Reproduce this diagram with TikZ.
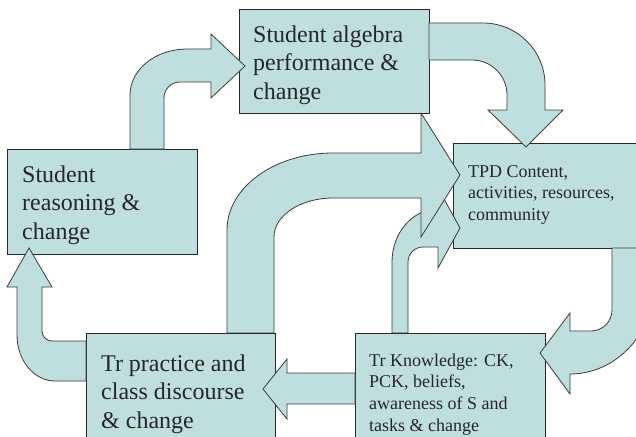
\documentclass[tikz,border=0pt]{standalone}
\usepackage{fontspec}
\setmainfont{Liberation Serif}
\definecolor{boxfill}{RGB}{191,223,222}
\definecolor{boxline}{RGB}{40,40,40}
\definecolor{arrowline}{RGB}{60,60,60}
\newcommand\boxfontL{\fontsize{24}{28.5}\selectfont}
\newcommand\boxfontS{\fontsize{18}{21.8}\selectfont}
\begin{document}
\begin{tikzpicture}[x=1pt,y=-1pt,
  box/.style={draw=boxline, line width=1.1pt, fill=boxfill, anchor=north west, inner sep=0pt},
  barrow/.style={draw=arrowline, line width=0.8pt, fill=boxfill, line join=miter},
  lbl/.style={anchor=base west, inner sep=0pt, text=black!85}]
\useasboundingbox (0,0) rectangle (636,436);
\clip (0,0) rectangle (636,436);

% lower-level boxes
\node[box, minimum width=190pt, minimum height=105pt] (sr) at (7,149) {};
\node[box, minimum width=207pt, minimum height=105pt] (tpd) at (453,143) {};

% thin bent arrow: knowledge -> TPD
\draw[barrow] (392,333) -- (392,262)
  .. controls (392,232.7) and (412.6,209) .. (438,209)
  -- (438,188) -- (460,228) -- (438,268) -- (438,247) -- (423,247)
  .. controls (414.7,247) and (408,253.7) .. (408,262) -- (408,333) -- cycle;

% wide bent arrow: practice -> TPD
\draw[barrow] (227,333) -- (227,230)
  .. controls (227,187.5) and (274.5,153) .. (333,153)
  -- (421,153) -- (421,113) -- (460,175) -- (421,237) -- (421,198) -- (333,198)
  .. controls (300.4,198) and (274,215.5) .. (274,237) -- (274,333) -- cycle;

\node[box, minimum width=190pt, minimum height=104pt] (sa) at (239,9) {};

% reasoning -> algebra performance
\draw[barrow] (130,149) -- (130,95)
  .. controls (130,69.6) and (155.5,49) .. (187,49)
  -- (211,49) -- (211,34) -- (245,66) -- (211,98) -- (211,82) -- (180,82)
  .. controls (171,82) and (164,89) .. (164,98) -- (164,149) -- cycle;

% algebra performance -> TPD
\draw[barrow] (429,23) -- (483,23)
  .. controls (517.2,23) and (545,50.8) .. (545,85)
  -- (545,110) -- (563,110) -- (526,147) -- (488,110) -- (507,110) -- (507,95)
  .. controls (507,75.7) and (491.3,60) .. (472,60) -- (429,60) -- cycle;

\node[box, minimum width=189pt, minimum height=127pt] (tp) at (86,333) {};
\node[box, minimum width=190pt, minimum height=127pt] (tk) at (355,333) {};

% TPD -> knowledge
\draw[barrow] (612,248) -- (612,310)
  .. controls (612,321.6) and (602.6,331) .. (591,331)
  -- (570,331) -- (570,313) -- (540,353) -- (570,394) -- (570,374)
  .. controls (616.9,374) and (655,332.4) .. (655,281) -- (655,248) -- cycle;

% knowledge -> practice
\draw[barrow] (355,373) -- (287,373) -- (287,359) -- (263,389) -- (287,419)
  -- (287,404) -- (355,404) -- cycle;

% practice -> reasoning
\draw[barrow] (86,341) -- (52,341)
  .. controls (46.5,341) and (42,336.5) .. (42,331)
  -- (42,287) -- (52,287) -- (29,248) -- (7,287) -- (17,287) -- (17,335)
  .. controls (17,360.4) and (34,381) .. (55,381) -- (86,381) -- cycle;

% box texts
\node[lbl] (sr-t) at (22,182) {\parbox[t]{170pt}{\raggedright\boxfontL Student\\reasoning \&\\change}};
\node[lbl] (sa-t) at (253,42) {\parbox[t]{175pt}{\raggedright\boxfontL Student algebra\\performance \&\\change}};
\node[lbl] (tpd-t) at (468,177) {\parbox[t]{165pt}{\raggedright\boxfontS TPD Content,\\activities, resources,\\community}};
\node[lbl] (tp-t) at (101,371) {\parbox[t]{170pt}{\raggedright\boxfontL Tr practice and\\class discourse\\\& change}};
\node[lbl] (tk-t) at (369,366) {\parbox[t]{175pt}{\raggedright\boxfontS Tr Knowledge: CK,\\PCK, beliefs,\\awareness of S and\\tasks \& change}};
\end{tikzpicture}
\end{document}
